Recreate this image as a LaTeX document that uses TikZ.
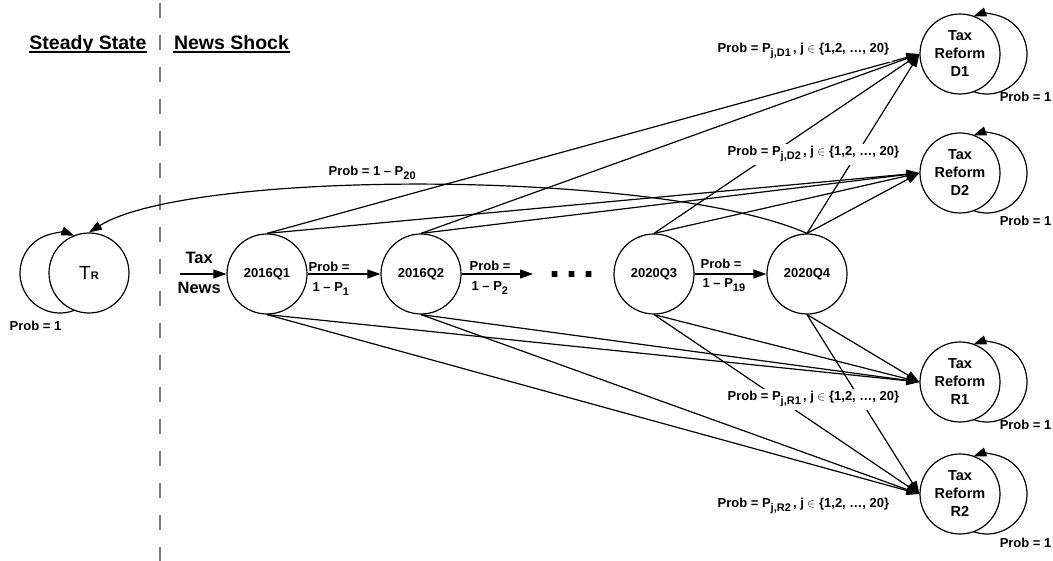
\documentclass[tikz,border=0pt]{standalone}
\usepackage{fontspec}
\setmainfont{Liberation Sans}
\usetikzlibrary{arrows.meta,calc}
% lowered, smaller index text after a symbol
\newcommand\lowsub[1]{\raisebox{-4pt}{\fontsize{11}{12}\selectfont #1}}

\begin{document}
\begin{tikzpicture}[x=1pt,y=1pt,line width=1.2pt,
  state/.style={circle,draw,minimum size=80pt,inner sep=0pt,
    font=\fontsize{13}{15}\selectfont\bfseries},
  reform/.style={state,align=center,font=\fontsize{14.5}{18}\selectfont\bfseries},
  arr/.style={-{Triangle[length=13pt,width=9pt]}},
  lbl/.style={font=\fontsize{13}{15}\selectfont\bfseries,inner sep=0pt},
  tag/.style={lbl,fill=white,inner sep=3pt},
  head/.style={font=\fontsize{19.5}{22}\selectfont\bfseries,inner sep=0pt},
  divider/.style={draw=black!50,line width=1.3pt,dash pattern=on 15pt off 17pt},
  uline/.style={line width=1.4pt}
]
\useasboundingbox (0,0) rectangle (1053,-561);

% regime divider and headings
\draw[divider] (160,-3) -- (160,-561);
\node[head,anchor=base] (hss) at (88,-50) {Steady State};
\node[head,anchor=base] (hns) at (231.5,-50) {News Shock};
\draw[uline] ([yshift=-2pt]hss.base west) -- ([yshift=-2pt]hss.base east);
\draw[uline] ([yshift=-2pt]hns.base west) -- ([yshift=-2pt]hns.base east);

% states
\node[state] (TR) at (89,-273) {\fontsize{19}{19}\selectfont\mdseries T\fontsize{11}{11}\selectfont\bfseries R};
\node[state] (q1) at (267,-274) {2016Q1};
\node[state] (q2) at (421,-274) {2016Q2};
\node[state] (q3) at (654,-274) {2020Q3};
\node[state] (q4) at (807,-274) {2020Q4};
\node[reform] (d1) at (960,-54) {Tax\\Reform\\D1};
\node[reform] (d2) at (960,-173) {Tax\\Reform\\D2};
\node[reform] (r1) at (960,-382) {Tax\\Reform\\R1};
\node[reform] (r2) at (960,-494) {Tax\\Reform\\R2};

% absorbing self-loops
\draw[arr] ($(TR.center)+(-29,0)+(-69:40)$) arc[start angle=-69,end angle=-291,radius=40];
\foreach \n in {d1,d2,r1,r2}
  \draw[arr] ($(\n.center)+(27,0)+(-110:40)$) arc[start angle=-110,end angle=110,radius=40];

% news arrival
\coordinate (newsin) at (180,-274);
\draw[arr] (newsin) -- (q1.west);
\node[font=\fontsize{16.5}{18}\selectfont\bfseries,inner sep=0pt,anchor=base west] (tax) at (185,-264) {Tax};
\node[font=\fontsize{16.5}{18}\selectfont\bfseries,inner sep=0pt,anchor=base west] (news) at (177,-294) {News};

% quarter-to-quarter transitions
\coordinate (q2out) at (533,-274);
\draw[arr] (q1.east) -- (q2.west);
\draw[arr] (q2.east) -- (q2out);
\draw[arr] (q3.east) -- (q4.west);
\node[font=\fontsize{40}{40}\selectfont\bfseries,inner sep=0pt,anchor=base] (dots) at (572,-278) {.\hspace{6pt}.\hspace{6pt}.};
\node[lbl,anchor=base west] (a1) at (308,-272) {Prob =};
\node[lbl,anchor=base west] (b1) at (312,-292) {1 – P\lowsub{1}};
\node[lbl,anchor=base west] (a2) at (469,-271) {Prob =};
\node[lbl,anchor=base west] (b2) at (471,-291) {1 – P\lowsub{2}};
\node[lbl,anchor=base west] (a3) at (700,-269) {Prob =};
\node[lbl,anchor=base west] (b3) at (702,-288) {1 – P\lowsub{19}};

% reform transitions
\foreach \s in {q1,q2,q3,q4}{
  \foreach \t in {d1,d2} \draw[arr] (\s.north) -- (\t.west);
  \foreach \t in {r1,r2} \draw[arr] (\s.south) -- (\t.west);
}

% return to steady state
\draw[arr] (q4.north) .. controls (660,-169) and (190,-169) .. (TR.north);
\node[lbl,anchor=base west] (p20) at (328,-176) {Prob = 1 – P\lowsub{20}};

% transition probability tags
\node[tag,anchor=base west] (td1) at (714,-53) {Prob = P\lowsub{j,D1}\,, j $\in$ \{1,2, …, 20\}};
\node[tag,anchor=base west] (td2) at (724,-156) {Prob = P\lowsub{j,D2}\,, j $\in$ \{1,2, …, 20\}};
\node[tag,anchor=base west] (tr1) at (724,-401) {Prob = P\lowsub{j,R1}\,, j $\in$ \{1,2, …, 20\}};
\node[tag,anchor=base west] (tr2) at (714,-507) {Prob = P\lowsub{j,R2}\,, j $\in$ \{1,2, …, 20\}};

% absorbing probabilities
\node[lbl,anchor=base west] (s0) at (9,-331) {Prob = 1};
\node[lbl,anchor=base east] (s1) at (1052,-102) {Prob = 1};
\node[lbl,anchor=base east] (s2) at (1052,-226) {Prob = 1};
\node[lbl,anchor=base east] (s3) at (1052,-429) {Prob = 1};
\node[lbl,anchor=base east] (s4) at (1052,-547) {Prob = 1};
\end{tikzpicture}
\end{document}
